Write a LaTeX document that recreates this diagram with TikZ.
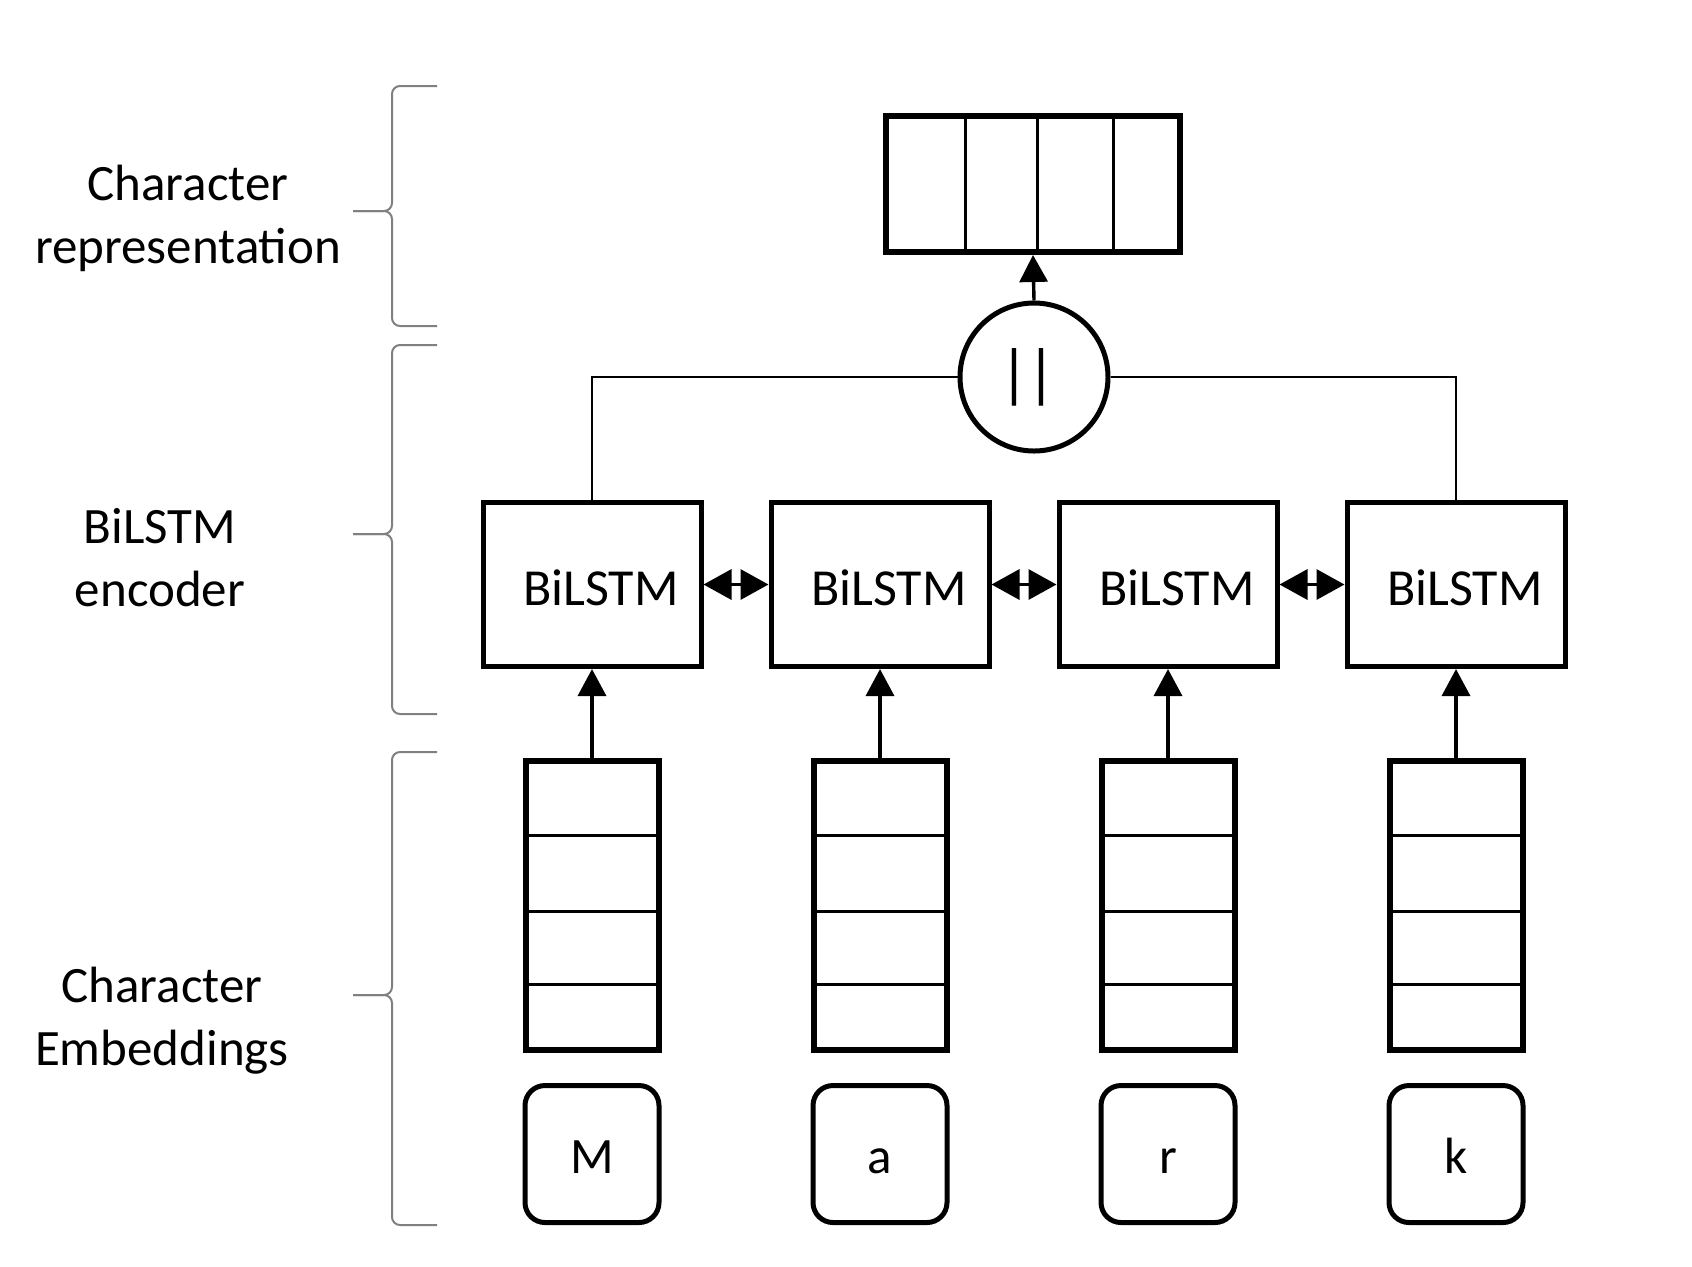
\documentclass[tikz,border=0pt]{standalone}
\usepackage{fontspec}
\setmainfont{Carlito}
\usetikzlibrary{arrows.meta}
\begin{document}
\begin{tikzpicture}[x=0.5pt,y=-0.5pt,
 lbl/.style={align=center,font=\fontsize{25.5}{31.5}\selectfont},
 lstm/.style={draw,line width=2.5pt,minimum width=109pt,minimum height=82pt,inner sep=0pt,font=\fontsize{26}{30}\selectfont,text height=0.68em,text depth=0pt},
 emb/.style={draw,line width=3pt,minimum width=66.5pt,minimum height=144.5pt,inner sep=0pt},
 chr/.style={draw,line width=2.5pt,rounded corners=10pt,minimum width=67pt,minimum height=68.5pt,inner sep=0pt,font=\fontsize{25.5}{30}\selectfont,text height=0.68em,text depth=0pt},
 arr/.style={line width=1.7pt,-{Triangle[width=14pt,length=13.5pt]}},
 darr/.style={line width=1.7pt,{Triangle[width=15pt,length=14pt]}-{Triangle[width=15pt,length=14pt]}},
 brace/.style={draw=black!50,line width=1pt,rounded corners=4pt},
 divline/.style={line width=1.5pt},
 conn/.style={line width=1.2pt}
]
\useasboundingbox (0,0) rectangle (1692,1266);

% labels
\node[lbl] (l1txt) at (188,218) {Character\\representation};
\node[lbl] (l2txt) at (160,558) {BiLSTM\\encoder};
\node[lbl] (l3txt) at (162,1021) {Character\\Embeddings};

% braces
\draw[brace] (437,86) -- (392,86) -- (392,211) -- (353,211);
\draw[brace] (353,211) -- (392,211) -- (392,326) -- (437,326);
\draw[brace] (437,345) -- (392,345) -- (392,534) -- (353,534);
\draw[brace] (353,534) -- (392,534) -- (392,714) -- (437,714);
\draw[brace] (437,752) -- (392,752) -- (392,995) -- (353,995);
\draw[brace] (353,995) -- (392,995) -- (392,1225) -- (437,1225);

% top representation vector
\node[draw,line width=3pt,minimum width=147pt,minimum height=68pt,inner sep=0pt] (rep) at (1033,184) {};
\foreach \dx in {965,1037,1113} \draw[divline] (\dx,116) -- (\dx,252);

% concatenation circle
\node[draw,circle,line width=2.5pt,minimum size=74pt,inner sep=0pt,font=\fontsize{32.5}{34}\selectfont] (cat) at (1034,377) {|\kern-1.25pt|\kern6pt};
\draw[arr] (cat.north) -- (rep.south);

% columns
\foreach \cx/\ch [count=\i] in {592/M,880/a,1168/r,1456/k} {
  \node[lstm] (b\i) at (\cx,584.5) {\hspace{9pt}\raisebox{-7pt}{BiLSTM}};
  \node[emb] (e\i) at (\cx,905.5) {};
  \foreach \dy in {835,911,984} \draw[divline] (\cx-66.5,\dy) -- (\cx+66.5,\dy);
  \node[chr] (c\i) at (\cx,1154) {\raisebox{-6.5pt}{\ch}};
  \draw[arr] (e\i.north) -- (b\i.south);
}
\draw[darr] (b1.east) -- (b2.west);
\draw[darr] (b2.east) -- (b3.west);
\draw[darr] (b3.east) -- (b4.west);

\draw[conn] (b1.north) |- (cat.west);
\draw[conn] (cat.east) -| (b4.north);
\end{tikzpicture}
\end{document}
